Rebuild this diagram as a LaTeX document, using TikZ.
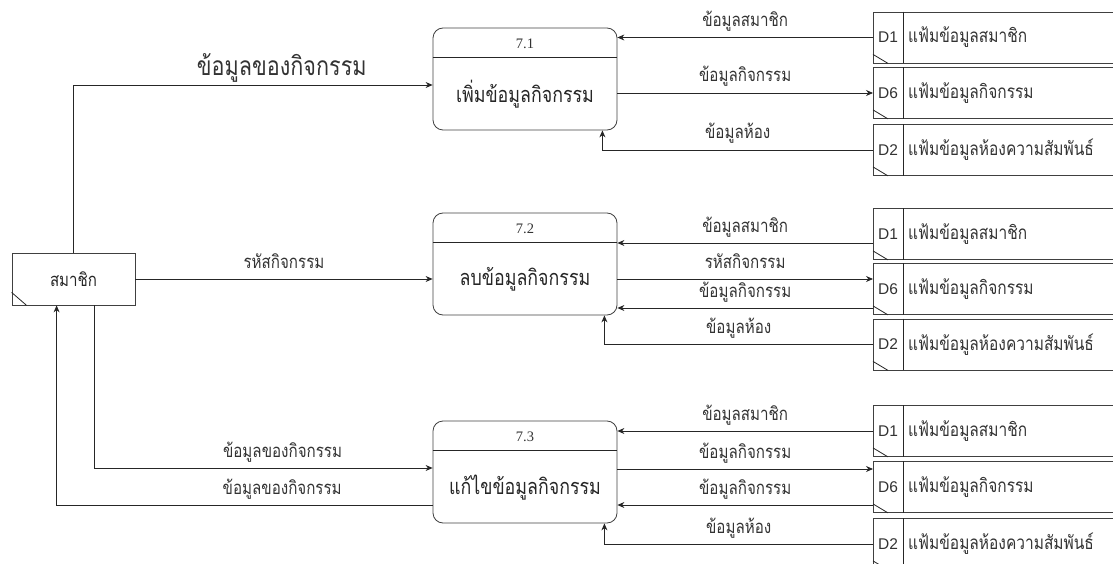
\documentclass[tikz,border=0pt]{standalone}
\usepackage{fontspec}
\setmainfont{Liberation Sans}
\newfontfamily\thai[Script=Thai,FakeStretch=0.82]{Loma}
\newfontfamily\numserif{Liberation Serif}
\usetikzlibrary{arrows.meta,calc}
% font size (in pt) that gives a sample text the wanted width
\newlength\measlen
\newcommand\thaisize[3]{%
  \setbox0=\hbox{\thai\fontsize{20}{24}\selectfont #3}%
  \measlen=\wd0
  \ifdim\measlen<1pt \measlen=120pt \fi
  \pgfmathsetmacro\tmpsize{20*#2/\measlen}%
  \global\let#1\tmpsize}
\AtBeginDocument{%
  \setbox0=\hbox{\thai\fontsize{20}{24}\selectfont ก}%
  \thaisize\biglblsz{158}{ข้อมูลของกิจกรรม}%
  \thaisize\procsz{138}{เพิ่มข้อมูลกิจกรรม}%
  \thaisize\entsz{47}{สมาชิก}%
  \thaisize\stsz{119}{แฟ้มข้อมูลสมาชิก}%
  \thaisize\lblsz{119}{ข้อมูลของกิจกรรม}}
\begin{document}
\begin{tikzpicture}[x=1pt,y=-1pt,
  line/.style={draw=black!85, line width=0.8pt},
  flow/.style={line, -{Stealth[length=7pt,width=6pt]}},
  lblbase/.style={text=black!80, inner sep=0pt, anchor=base},
  lbl/.style={lblbase, font=\thai\fontsize{\lblsz}{\lblsz}\selectfont, yshift=11pt},
  biglbl/.style={lblbase, font=\thai\fontsize{\biglblsz}{\biglblsz}\selectfont, yshift=9pt},
  proc/.style={draw=black!75, line width=0.8pt, rounded corners=10pt,
    minimum width=184pt, minimum height=102pt, inner sep=0pt},
  ent/.style={draw=black!75, line width=0.8pt, minimum width=123pt,
    minimum height=52pt, inner sep=0pt},
  store/.style={draw=black!75, line width=0.8pt, minimum width=260pt,
    minimum height=51pt, inner sep=0pt, anchor=west},
  stid/.style={font=\fontsize{15.5}{17}\selectfont, text=black!80, inner sep=0pt},
  stname/.style={font=\thai\fontsize{\stsz}{\stsz}\selectfont, text=black!80,
    anchor=west, inner sep=0pt},
  pnum/.style={font=\numserif\fontsize{14.5}{16}\selectfont, text=black!80, inner sep=0pt},
  pname/.style={font=\thai\fontsize{\procsz}{\procsz}\selectfont, text=black!85, inner sep=0pt}
]
\useasboundingbox (0,0) rectangle (1113,564);

% external entity
\node[ent] (ent) at (73.5,279) {};
\node[font=\thai\fontsize{\entsz}{\entsz}\selectfont, text=black!85] (entname) at (ent.center) {สมาชิก};
\draw[line] ($(ent.south west)+(0,-13)$) -- ($(ent.south west)+(15,0)$);

% processes
\foreach \n/\y/\num/\txt in {p1/79/7.1/เพิ่มข้อมูลกิจกรรม, p2/264/7.2/ลบข้อมูลกิจกรรม, p3/472/7.3/แก้ไขข้อมูลกิจกรรม}{
  \node[proc] (\n) at (525,\y) {};
  \draw[line] ($(\n.north west)+(0,30)$) -- ($(\n.north east)+(0,30)$);
  \node[pnum] (\n num) at ($(\n.north)+(0,16)$) {\num};
  \node[pname] (\n name) at ($(\n.north)+(0,67)$) {\txt};
}

% data stores
\foreach \n/\y/\id/\txt in {
  s11/37.5/D1/แฟ้มข้อมูลสมาชิก, s16/93/D6/แฟ้มข้อมูลกิจกรรม, s12/150/D2/แฟ้มข้อมูลห้องความสัมพันธ์,
  s21/234/D1/แฟ้มข้อมูลสมาชิก, s26/289/D6/แฟ้มข้อมูลกิจกรรม, s22/344.5/D2/แฟ้มข้อมูลห้องความสัมพันธ์,
  s31/431/D1/แฟ้มข้อมูลสมาชิก, s36/487/D6/แฟ้มข้อมูลกิจกรรม, s32/544/D2/แฟ้มข้อมูลห้องความสัมพันธ์}{
  \node[store] (\n) at (873,\y) {};
  \draw[line] ($(\n.north west)+(30,0)$) -- ($(\n.south west)+(30,0)$);
  \draw[line] ($(\n.south west)+(0,-9)$) -- ($(\n.south west)+(15,0)$);
  \node[stid] (\n id) at ($(\n.west)+(15,0)$) {\id};
  \node[stname] (\n name) at ($(\n.west)+(35,0)$) {\txt};
}

% entity <-> processes
\coordinate (e1) at ($(p1.west)+(0,6)$);
\draw[flow] (ent.north) |- (e1) node[biglbl, pos=0.79] {ข้อมูลของกิจกรรม};
\draw[flow] (ent.east) -- (ent.east -| p2.west) node[lbl, pos=0.5] {รหัสกิจกรรม};
\coordinate (e3a) at ($(p3.west)+(0,-4)$);
\coordinate (e3b) at ($(p3.west)+(0,33)$);
\draw[flow] ($(ent.south west)+(83,0)$) |- (e3a) node[lbl, pos=0.778] {ข้อมูลของกิจกรรม};
\draw[flow] (e3b) -| ($(ent.south west)+(45,0)$) node[lbl, pos=0.2] {ข้อมูลของกิจกรรม};

% process 7.1 <-> stores
\draw[flow] (s11.west) -- (s11.west -| p1.east) node[lbl, pos=0.5] {ข้อมูลสมาชิก};
\draw[flow] (s16.west -| p1.east) -- (s16.west) node[lbl, pos=0.5] {ข้อมูลกิจกรรม};
\draw[flow] (s12.west) -| ($(p1.south east)+(-15,0)$) node[lbl, pos=0.25] {ข้อมูลห้อง};

% process 7.2 <-> stores
\coordinate (a21) at ($(s21.west)+(0,9)$);
\coordinate (a26) at ($(s26.west)+(0,-10)$);
\coordinate (b26) at ($(s26.west)+(0,19)$);
\draw[flow] (a21) -- (a21 -| p2.east) node[lbl, pos=0.5] {ข้อมูลสมาชิก};
\draw[flow] (a26 -| p2.east) -- (a26) node[lbl, pos=0.5] {รหัสกิจกรรม};
\draw[flow] (b26) -- (b26 -| p2.east) node[lbl, pos=0.5] {ข้อมูลกิจกรรม};
\draw[flow] (s22.west) -| ($(p2.south east)+(-13,0)$) node[lbl, pos=0.25] {ข้อมูลห้อง};

% process 7.3 <-> stores
\coordinate (a36) at ($(s36.west)+(0,-18)$);
\coordinate (b36) at ($(s36.west)+(0,18)$);
\draw[flow] (s31.west) -- (s31.west -| p3.east) node[lbl, pos=0.5] {ข้อมูลสมาชิก};
\draw[flow] (a36 -| p3.east) -- (a36) node[lbl, pos=0.5] {ข้อมูลกิจกรรม};
\draw[flow] (b36) -- (b36 -| p3.east) node[lbl, pos=0.5] {ข้อมูลกิจกรรม};
\draw[flow] (s32.west) -| ($(p3.south east)+(-13,0)$) node[lbl, pos=0.25] {ข้อมูลห้อง};
\end{tikzpicture}
\end{document}
